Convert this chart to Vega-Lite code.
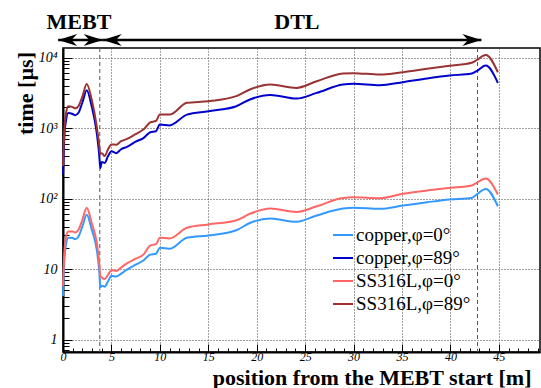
{
  "$schema": "https://vega.github.io/schema/vega-lite/v6.json",
  "width": 477,
  "height": 304,
  "autosize": {"type": "none"},
  "padding": {"left": 63, "top": 48, "right": 1, "bottom": 36},
  "config": {
    "view": {"stroke": "black", "strokeWidth": 1.5},
    "font": "serif"
  },
  "data": {
    "values": [
      {"x": 0, "c0": 4.1, "c89": 220, "s0": 5.7, "s89": 290},
      {"x": 0.15, "c0": 14, "c89": 800, "s0": 18, "s89": 1000},
      {"x": 0.3, "c0": 22, "c89": 1250, "s0": 28, "s89": 1600},
      {"x": 0.55, "c0": 27.7, "c89": 1640, "s0": 34, "s89": 2040},
      {"x": 1.0, "c0": 27.5, "c89": 1580, "s0": 34, "s89": 1980},
      {"x": 1.25, "c0": 26.5, "c89": 1520, "s0": 33, "s89": 1900},
      {"x": 1.6, "c0": 29, "c89": 1650, "s0": 36, "s89": 2050},
      {"x": 2.0, "c0": 40, "c89": 2300, "s0": 50, "s89": 2800},
      {"x": 2.45, "c0": 59, "c89": 3440, "s0": 74, "s89": 4200},
      {"x": 2.96, "c0": 36.5, "c89": 2040, "s0": 45, "s89": 2540},
      {"x": 3.48, "c0": 19, "c89": 860, "s0": 23.8, "s89": 1060},
      {"x": 3.75, "c0": 9, "c89": 400, "s0": 12, "s89": 560},
      {"x": 3.85, "c0": 5.5, "c89": 270, "s0": 8, "s89": 430},
      {"x": 4.0, "c0": 5.8, "c89": 330, "s0": 7.6, "s89": 440},
      {"x": 4.3, "c0": 5.6, "c89": 320, "s0": 7.2, "s89": 400},
      {"x": 4.65, "c0": 6.7, "c89": 400, "s0": 8.3, "s89": 500},
      {"x": 5.0, "c0": 8.0, "c89": 470, "s0": 9.6, "s89": 585},
      {"x": 5.5, "c0": 7.8, "c89": 440, "s0": 9.4, "s89": 580},
      {"x": 6.0, "c0": 8.6, "c89": 500, "s0": 10.5, "s89": 650},
      {"x": 6.6, "c0": 9.8, "c89": 540, "s0": 12, "s89": 700},
      {"x": 7.5, "c0": 11.5, "c89": 640, "s0": 14, "s89": 820},
      {"x": 8.3, "c0": 13.2, "c89": 720, "s0": 16, "s89": 950},
      {"x": 9.0, "c0": 16, "c89": 870, "s0": 21.5, "s89": 1200},
      {"x": 9.6, "c0": 16.5, "c89": 900, "s0": 22.5, "s89": 1260},
      {"x": 10, "c0": 20, "c89": 1120, "s0": 27.7, "s89": 1550},
      {"x": 11, "c0": 19.4, "c89": 1090, "s0": 27.2, "s89": 1550},
      {"x": 12.8, "c0": 27.7, "c89": 1550, "s0": 38.4, "s89": 2280},
      {"x": 15, "c0": 29.9, "c89": 1730, "s0": 42.8, "s89": 2400},
      {"x": 17.9, "c0": 35.5, "c89": 2040, "s0": 49.2, "s89": 2830},
      {"x": 19.3, "c0": 45, "c89": 2540, "s0": 60.7, "s89": 3520},
      {"x": 21.4, "c0": 52, "c89": 2950, "s0": 72, "s89": 4140},
      {"x": 24.1, "c0": 46.7, "c89": 2620, "s0": 64.6, "s89": 3710},
      {"x": 26.2, "c0": 57.4, "c89": 3150, "s0": 77.6, "s89": 4610},
      {"x": 28.9, "c0": 72, "c89": 4140, "s0": 102, "s89": 5930},
      {"x": 30, "c0": 74, "c89": 4240, "s0": 104, "s89": 6000},
      {"x": 32.7, "c0": 71.4, "c89": 4050, "s0": 101, "s89": 5740},
      {"x": 35.1, "c0": 79.4, "c89": 4470, "s0": 117, "s89": 6190},
      {"x": 37.6, "c0": 88.5, "c89": 5040, "s0": 130, "s89": 6910},
      {"x": 39.9, "c0": 96.8, "c89": 5550, "s0": 141, "s89": 7630},
      {"x": 42.2, "c0": 102, "c89": 5930, "s0": 153, "s89": 8410},
      {"x": 42.7, "c0": 114, "c89": 6400, "s0": 167, "s89": 9160},
      {"x": 43.65, "c0": 137, "c89": 7700, "s0": 192, "s89": 10900},
      {"x": 44.9, "c0": 77.6, "c89": 4380, "s0": 114, "s89": 6190}
    ]
  },
  "layer": [
    {
      "data": {"values": [{"dx": 3.8}, {"dx": 42.8}]},
      "mark": {"type": "rule", "color": "#555555", "strokeWidth": 1, "strokeDash": [4, 3]},
      "encoding": {
        "x": {"field": "dx", "type": "quantitative", "scale": {"domain": [0, 49.25], "nice": false, "zero": false}, "axis": null}
      }
    },
    {
      "data": {"values": [{"mx": 10, "my": 10}]},
      "mark": {"type": "point", "opacity": 0},
      "encoding": {
        "x": {"field": "mx", "type": "quantitative", "scale": {"domain": [0, 49.25], "nice": false, "zero": false},
          "axis": {"orient": "bottom", "values": [1,2,3,4,6,7,8,9,11,12,13,14,16,17,18,19,21,22,23,24,26,27,28,29,31,32,33,34,36,37,38,39,41,42,43,44,46,47,48,49],
            "labels": false, "grid": false, "domain": false, "title": null, "tickSize": -4, "tickColor": "black", "tickWidth": 1}},
        "y": {"field": "my", "type": "quantitative", "scale": {"type": "log", "domain": [0.665, 13650], "nice": false, "zero": false},
          "axis": {"orient": "left", "values": [0.7,0.8,0.9,2,3,4,5,6,7,8,9,20,30,40,50,60,70,80,90,200,300,400,500,600,700,800,900,2000,3000,4000,5000,6000,7000,8000,9000],
            "labels": false, "grid": false, "domain": false, "title": null, "tickSize": -6, "tickColor": "black", "tickWidth": 1}}
      }
    },
    {
      "transform": [{"fold": ["c0", "c89", "s0", "s89"], "as": ["s", "t"]}],
      "mark": {"type": "line", "strokeWidth": 2, "interpolate": "monotone"},
      "encoding": {
        "x": {"field": "x", "type": "quantitative", "scale": {"domain": [0, 49.25], "nice": false, "zero": false},
          "axis": {"orient": "bottom", "values": [0,5,10,15,20,25,30,35,40,45], "tickSize": -8, "tickColor": "black", "tickWidth": 1,
            "domainColor": "black", "domainWidth": 2, "labelFlush": false,
            "labelFont": "serif", "labelFontStyle": "italic", "labelFontSize": 12, "labelColor": "black", "labelPadding": 7,
            "grid": true, "gridColor": "#444444", "gridDash": [1, 2], "gridWidth": 1,
            "title": "position from the MEBT start [m]", "titleFont": "serif", "titleFontWeight": "bold", "titleFontSize": 22, "titleColor": "black",
            "titleX": 468, "titleY": 25, "titleAlign": "right", "titleBaseline": "middle"}},
        "y": {"field": "t", "type": "quantitative", "scale": {"type": "log", "domain": [0.665, 13650], "nice": false, "zero": false},
          "axis": {"orient": "left", "values": [1, 10, 100, 1000, 10000], "tickSize": -9, "tickColor": "black", "tickWidth": 1,
            "domainColor": "black", "domainWidth": 2, "labelFlush": false,
            "labelExpr": "datum.value == 1 ? '1' : datum.value == 10 ? '10' : datum.value == 100 ? '10²' : datum.value == 1000 ? '10³' : '10⁴'",
            "labelFont": "serif", "labelFontStyle": "italic", "labelFontSize": 14, "labelColor": "black", "labelPadding": 15,
            "grid": true, "gridColor": "#444444", "gridDash": [1, 2], "gridWidth": 1,
            "title": "time [µs]", "titleFont": "serif", "titleFontWeight": "bold", "titleFontSize": 22, "titleColor": "black",
            "titleAngle": 270, "titleX": -38, "titleY": 45, "titleAlign": "center", "titleBaseline": "middle"}},
        "color": {"field": "s", "type": "nominal",
          "scale": {"domain": ["c0", "c89", "s0", "s89"], "range": ["#3399ff", "#0000cc", "#ff6666", "#993333"]},
          "legend": {"orient": "none", "legendX": 269, "legendY": 176, "title": null, "symbolType": "stroke", "symbolSize": 400, "symbolStrokeWidth": 2,
            "labelFont": "serif", "labelFontSize": 19, "labelColor": "black", "rowPadding": 2, "labelOffset": 2, "padding": 0,
            "labelExpr": "datum.value == 'c0' ? 'copper,φ=0°' : datum.value == 'c89' ? 'copper,φ=89°' : datum.value == 's0' ? 'SS316L,φ=0°' : 'SS316L,φ=89°'"}}
      }
    },
    {
      "data": {"values": [{"a": -0.5, "b": 4.1, "ay": 17700}, {"a": 4.1, "b": 43.2, "ay": 17700}]},
      "mark": {"type": "rule", "color": "black", "strokeWidth": 2.5},
      "encoding": {
        "x": {"field": "a", "type": "quantitative", "scale": {"domain": [0, 49.25], "nice": false, "zero": false}, "axis": null},
        "x2": {"field": "b"},
        "y": {"field": "ay", "type": "quantitative", "scale": {"type": "log", "domain": [0.665, 13650], "nice": false, "zero": false}, "axis": null}
      }
    },
    {
      "data": {"values": [{"hx": 4.1, "hy": 17700}, {"hx": 43.2, "hy": 17700}]},
      "mark": {"type": "point", "filled": true, "color": "black", "opacity": 1, "size": 361, "shape": "M0,0 L-2,-0.63 L-1.4,0 L-2,0.63 Z"},
      "encoding": {
        "x": {"field": "hx", "type": "quantitative", "scale": {"domain": [0, 49.25], "nice": false, "zero": false}, "axis": null},
        "y": {"field": "hy", "type": "quantitative", "scale": {"type": "log", "domain": [0.665, 13650], "nice": false, "zero": false}, "axis": null}
      }
    },
    {
      "data": {"values": [{"hx": -0.5, "hy": 17700}, {"hx": 4.1, "hy": 17700}]},
      "mark": {"type": "point", "filled": true, "color": "black", "opacity": 1, "size": 361, "shape": "M0,0 L2,-0.63 L1.4,0 L2,0.63 Z"},
      "encoding": {
        "x": {"field": "hx", "type": "quantitative", "scale": {"domain": [0, 49.25], "nice": false, "zero": false}, "axis": null},
        "y": {"field": "hy", "type": "quantitative", "scale": {"type": "log", "domain": [0.665, 13650], "nice": false, "zero": false}, "axis": null}
      }
    },
    {
      "data": {"values": [{"tx": 1.65, "ty": 32000, "label": "MEBT"}, {"tx": 24.15, "ty": 32000, "label": "DTL"}]},
      "mark": {"type": "text", "font": "serif", "fontWeight": "bold", "fontSize": 22, "color": "black", "align": "center", "baseline": "middle"},
      "encoding": {
        "x": {"field": "tx", "type": "quantitative", "scale": {"domain": [0, 49.25], "nice": false, "zero": false}, "axis": null},
        "y": {"field": "ty", "type": "quantitative", "scale": {"type": "log", "domain": [0.665, 13650], "nice": false, "zero": false}, "axis": null},
        "text": {"field": "label"}
      }
    }
  ],
  "resolve": {"axis": {"x": "independent", "y": "independent"}}
}
